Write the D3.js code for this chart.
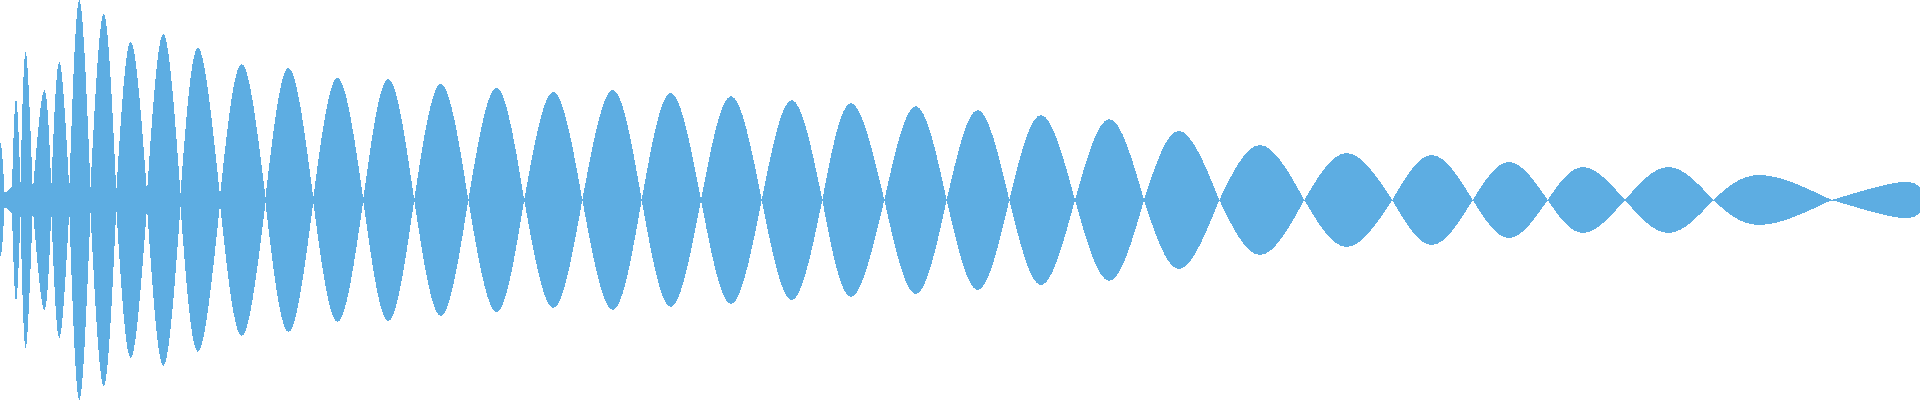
<!DOCTYPE html>
<html>
<head>
<meta charset="utf-8">
<script src="https://cdn.jsdelivr.net/npm/d3@7"></script>
<style>
  body { margin: 0; background: #fff; }
  svg { display: block; }
</style>
</head>
<body>
<svg id="chart"></svg>
<script>
// waveform envelope
// lobe boundaries (zero crossings) and the envelope level there
const crossings = [0, 4.5, 12, 20.5, 32.8, 51.3, 69.3, 90.5, 116.3, 147, 180.5, 220, 265.5, 313.3,
  363.3, 414.2, 468.3, 524.2, 582.3, 641.7, 701, 761.7, 822.3, 884.3, 946.7, 1009.3, 1075, 1144,
  1219.3, 1304.3, 1392.3, 1472.7, 1547.7, 1625, 1713.3, 1831.7, 1920];
const crossAmps = [0.285, 0.04, 0.07, 0.085, 0.04, 0.06, 0.055, 0.065, 0.04, 0.035, 0.035, 0.02,
  0.015, 0.01, 0.005, 0, 0, 0, 0, 0, 0, 0, 0, 0, 0, 0, 0, 0, 0, 0, 0, 0, 0, 0, 0, 0, 0.065];

// one peak per lobe
const peakX = [2, 8, 16, 25.7, 44.3, 59.3, 79.3, 103.8, 130.7, 163.3, 198, 241.7, 288.5, 337.5,
  388.3, 440.8, 496.5, 553.3, 612.7, 670.7, 731, 791.7, 851, 915.7, 977.7, 1041, 1109.3, 1179,
  1260, 1346.7, 1431.7, 1509, 1583, 1668.3, 1760, 1897];
const peakAmp = [0.24, 0.045, 0.505, 0.74, 0.55, 0.69, 1.0, 0.93, 0.79, 0.83, 0.76, 0.68, 0.66,
  0.61, 0.605, 0.58, 0.56, 0.54, 0.55, 0.535, 0.52, 0.5, 0.485, 0.47, 0.45, 0.425, 0.405,
  0.345, 0.275, 0.235, 0.225, 0.19, 0.165, 0.165, 0.125, 0.087];

const width = 1920;
const height = 400;

const svg = d3.select('#chart')
  .attr('width', width)
  .attr('height', height);

const x = d3.scaleLinear().domain([0, 1920]).range([0, width]);
const y = d3.scaleLinear().domain([-1, 1]).range([height, 0]);

const area = d3.area()
  .x(d => x(d[0]))
  .y0(d => y(-d[1]))
  .y1(d => y(d[1]))
  .curve(d3.curveNatural);

const lobes = peakX.map((px, i) => [
  [crossings[i], crossAmps[i]],
  [px, peakAmp[i]],
  [crossings[i + 1], crossAmps[i + 1]]
]);

svg.selectAll('path.lobe')
  .data(lobes)
  .join('path')
  .attr('class', 'lobe')
  .attr('d', area)
  .attr('fill', '#5dade2')
  .attr('shape-rendering', 'crispEdges');

// thin centre line, the zero samples still show as one pixel
svg.append('line')
  .attr('x1', x(0)).attr('x2', x(1920))
  .attr('y1', y(0)).attr('y2', y(0))
  .attr('stroke', '#5dade2')
  .attr('stroke-width', 1)
  .attr('shape-rendering', 'crispEdges');
</script>
</body>
</html>
